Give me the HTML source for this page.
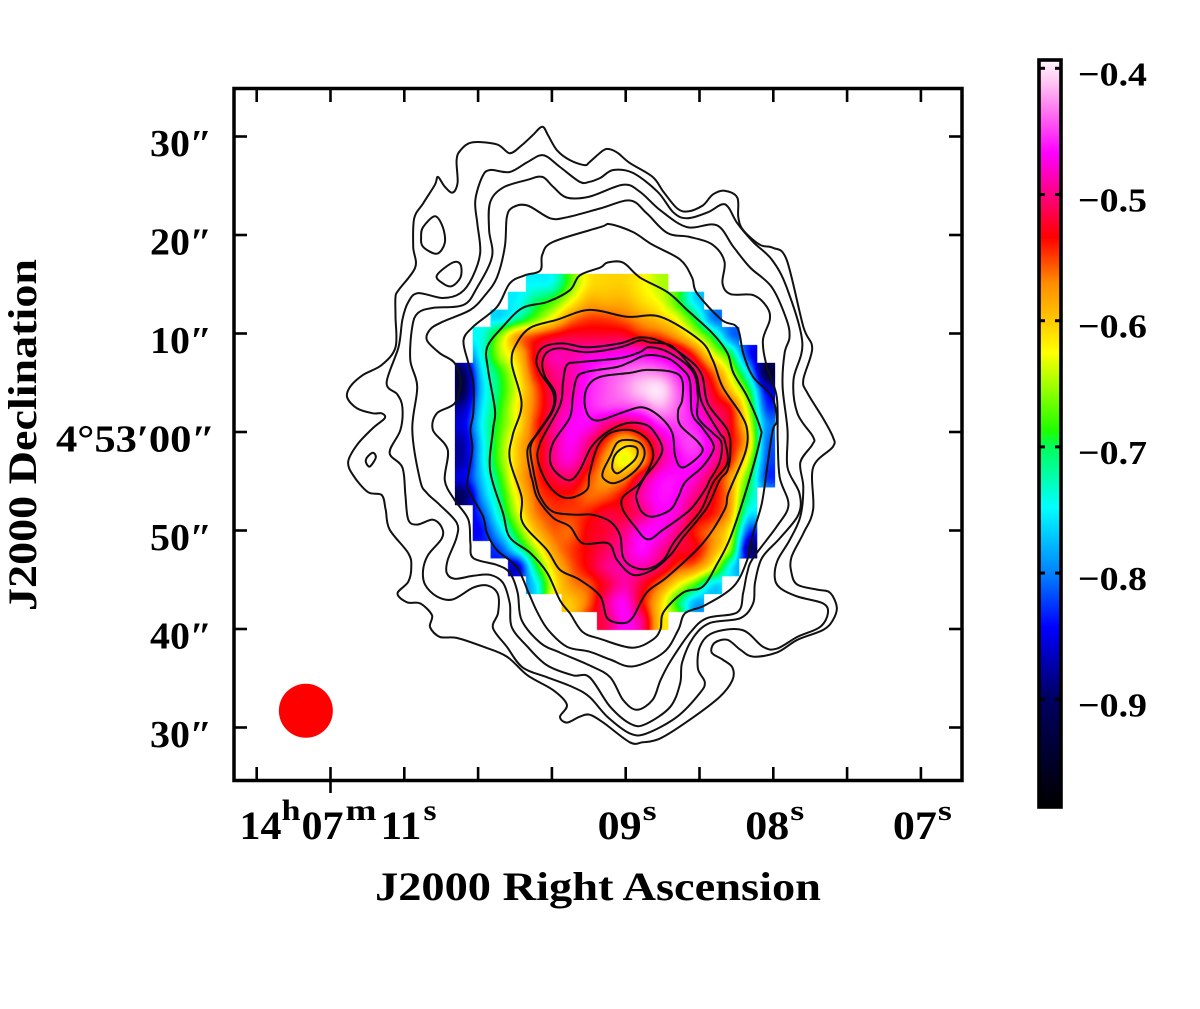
<!DOCTYPE html>
<html lang="en">
<head>
<meta charset="utf-8">
<title>Spectral index map with contours</title>
<style>
html,body{margin:0;padding:0;background:#fff;}
#stage{position:relative;width:1200px;height:1009px;overflow:hidden;background:#fff;}
#stage svg,#stage canvas{position:absolute;left:0;top:0;}
text{font-family:"Liberation Serif",serif;font-weight:bold;fill:#000;}
</style>
</head>
<body>
<div id="stage">
<svg id="cells" width="1200" height="1009"></svg>
<canvas id="field" width="1200" height="1009"></canvas>
<svg id="overlay" width="1200" height="1009" viewBox="0 0 1200 1009">
<text x="375" y="900" font-size="40" textLength="446" lengthAdjust="spacingAndGlyphs">J2000 Right Ascension</text>
<text transform="translate(36 611) rotate(-90)" font-size="40" textLength="352" lengthAdjust="spacingAndGlyphs">J2000 Declination</text>
</svg>
</div>
<script>
// ---- Axis ticks (RA in seconds of time past 14h07m, Dec in arcsec from 4d53m00s) ----
const raTicks=[11.5,11,10.5,10,9.5,9,8.5,8,7.5,7];
const raLabelTicks=[9,8,7];
const raLabelDigits=["09","08","07"];
const raFirstTick=11;
const raFirstLabelParts=["14","h","07","m","11","s"];
const decTicks=[30,20,10,0,-10,-20,-30];
const decLabels=["30\u2033","20\u2033","10\u2033","4\u00B053\u203200\u2033","50\u2033","40\u2033","30\u2033"];
const colorbarTicks=[-0.4,-0.5,-0.6,-0.7,-0.8,-0.9];
const colorbarLabels=["\u22120.4","\u22120.5","\u22120.6","\u22120.7","\u22120.8","\u22120.9"];

// ---- Colour map ----
const cmapValues=[-0.393,-0.412,-0.439,-0.467,-0.5,-0.534,-0.57,-0.6,-0.625,-0.687,-0.7,-0.748,-0.8,-0.843,-0.898,-0.985];
const cmapRed=[255,255,255,255,255,255,255,255,255,30,0,0,0,0,0,0];
const cmapGreen=[245,195,100,0,0,0,140,200,255,255,255,255,130,0,0,0];
const cmapBlue=[253,242,240,255,130,0,0,0,0,0,90,255,255,255,100,0];

// ---- Spectral index per map cell (null = blanked) ----
const spectralIndexRows=[
[null,null,null,null,-.75,-.74,-.67,-.615,-.605,-.605,-.62,-.645,null,null,null,null,null,null],
[null,null,null,-.75,-.71,-.68,-.63,-.59,-.59,-.59,-.61,-.63,-.68,-.76,null,null,null,null],
[null,null,-.76,-.72,-.67,-.62,-.57,-.55,-.55,-.56,-.58,-.60,-.63,-.70,-.80,null,null,null],
[null,-.74,-.66,-.58,-.55,-.53,-.52,-.52,-.52,-.52,-.54,-.55,-.58,-.63,-.70,-.80,null,null],
[null,-.74,-.65,-.60,-.53,-.49,-.49,-.48,-.475,-.47,-.47,-.48,-.50,-.55,-.63,-.70,-.83,null],
[-.90,-.76,-.69,-.62,-.54,-.50,-.49,-.465,-.45,-.44,-.43,-.435,-.46,-.50,-.56,-.64,-.76,-.92],
[-.91,-.77,-.70,-.63,-.56,-.51,-.49,-.46,-.445,-.43,-.41,-.40,-.44,-.48,-.53,-.60,-.69,-.85],
[-.87,-.76,-.69,-.62,-.56,-.51,-.48,-.46,-.45,-.45,-.44,-.42,-.44,-.47,-.51,-.54,-.65,-.82],
[-.85,-.75,-.68,-.62,-.55,-.50,-.47,-.47,-.50,-.52,-.50,-.46,-.45,-.46,-.49,-.53,-.62,-.79],
[-.87,-.76,-.67,-.60,-.55,-.50,-.47,-.50,-.55,-.60,-.56,-.50,-.46,-.45,-.48,-.53,-.60,-.80],
[-.87,-.76,-.67,-.60,-.55,-.50,-.48,-.52,-.58,-.63,-.58,-.50,-.47,-.46,-.49,-.54,-.64,-.81],
[-.85,-.77,-.69,-.60,-.55,-.52,-.51,-.55,-.58,-.57,-.51,-.47,-.465,-.48,-.52,-.58,-.68,-.82],
[-.90,-.79,-.71,-.62,-.56,-.54,-.54,-.56,-.555,-.53,-.49,-.465,-.47,-.50,-.53,-.58,-.71,null],
[null,-.82,-.73,-.64,-.57,-.55,-.55,-.54,-.52,-.52,-.50,-.47,-.48,-.52,-.54,-.59,-.75,null],
[null,-.84,-.77,-.68,-.60,-.56,-.56,-.53,-.52,-.50,-.47,-.47,-.50,-.54,-.57,-.63,-.82,null],
[null,null,-.82,-.74,-.65,-.58,-.55,-.53,-.51,-.49,-.465,-.49,-.52,-.53,-.58,-.66,-.88,null],
[null,null,null,-.86,-.71,-.61,-.56,-.53,-.50,-.49,-.49,-.51,-.55,-.57,-.63,-.75,null,null],
[null,null,null,null,-.76,-.63,-.575,-.555,-.52,-.49,-.52,-.565,-.62,-.68,-.76,null,null,null],
[null,null,null,null,null,null,-.60,-.56,-.50,-.47,-.53,-.60,-.69,-.78,null,null,null,null],
[null,null,null,null,null,null,null,null,-.51,-.47,-.50,-.60,null,null,null,null,null,null]
];

// ---- Contours: west offset, north offset pairs (arcsec from map centre) ----
const contourOuter=[-8.5,31,-9.5,30.1,-10.6,29.1,-11.8,28.3,-13.1,29.2,-15.6,29.4,-16.8,28.6,-17.2,27.6,-17.1,25.3,-17.6,24.3,-18.4,24.9,-19.1,25.9,-19.4,25.1,-20.6,23.2,-21.5,21.7,-21.6,18.8,-21.4,16.7,-23.1,14.4,-23.4,13.7,-23.4,11.7,-23.4,8.6,-24.8,6.8,-26.7,5.8,-28,4.6,-28.3,3.5,-27.3,2.4,-25.7,1.9,-24.8,1.9,-24.5,1.4,-25.7,0.4,-27.3,-1.3,-28.2,-3,-27.7,-4.4,-26.2,-6.1,-24.8,-6.4,-24.4,-7.9,-24,-9.9,-22.1,-12.3,-21.8,-13.7,-22.1,-15.2,-23.2,-16.4,-22.2,-17.3,-20.9,-17.4,-19.7,-18.6,-19.9,-19.8,-18.9,-20.8,-17.2,-20.9,-14.5,-21.8,-12.1,-22.8,-10,-24.7,-7.4,-26.2,-6,-27.7,-6.7,-28.9,-6,-29.5,-4.7,-28.9,-3.7,-28.7,-2.3,-29.5,0.4,-31.5,1.7,-31.5,3.5,-31.1,6.5,-29.2,9.5,-26.9,10.8,-25.2,10.8,-23.9,9.8,-23.1,8.7,-22.4,9,-21.4,10.3,-21.1,11.6,-22.1,12.9,-22.8,15.3,-22.4,17.4,-21.1,20,-20.1,21,-19.1,21.4,-17.8,20.7,-16.3,19.4,-16,17.4,-15.5,16.8,-14.3,16.8,-12.7,18,-10.3,19,-7.9,19,-3.6,21,-1.5,21,-0.5,20,1.4,18.4,4,18,5.3,18.9,8.5,18,10.7,16.3,17.5,14.9,18.7,13.6,19,11.9,20.5,11.4,21.8,11.3,23.8,10,24.5,8.8,24.1,7.8,23,6.3,22.4,5.2,22.7,3.8,24.4,2.7,25.9,0.4,27.3,-0.8,28.3,-1.6,28.7,-2.3,28.6,-3.7,27.4,-4.2,27.1,-5.7,27.6,-7,28.6,-7.9,30.1];
const contourIslandA=[-20.6,20.8,-19.4,21.9,-18.6,20.8,-18.4,19.2,-19.2,18.1,-20.6,18.8,-20.8,19.8];
const contourIslandB=[-19.2,15.9,-17.6,17.2,-16.8,17,-16.8,15.7,-17.7,14.8,-18.6,15.1];
const contourIslandC=[-26.3,-2.6,-25.7,-2.1,-25.4,-2.6,-26,-3.5,-26.4,-3.1];
const contourLevel2=[-8.4,28.1,-10,27.4,-11.8,26.4,-13.8,26.6,-14.6,25.9,-15.3,23.5,-15.1,21.2,-14.8,18.2,-15.6,15.7,-16.8,14.1,-18.6,13.6,-21.1,14.1,-22.1,13.2,-22.7,11.4,-23.1,8.6,-24.3,5,-23.2,3.8,-22.7,2.5,-22.9,0.2,-24,-2.1,-22.7,-3.6,-22.4,-6.4,-22.1,-8.9,-21.2,-9.4,-19.6,-8.9,-18.7,-9.7,-18.7,-10.8,-20.1,-12.5,-20.6,-14,-20.4,-15.5,-19.2,-16.7,-17.6,-17,-15.5,-15.8,-14,-15.6,-13,-16.5,-13,-18.4,-13.5,-19.9,-12.1,-21.8,-10.5,-23.9,-8,-24.9,-5.4,-25.9,-3.7,-26.9,-1.9,-28.9,0.4,-30.6,2.1,-30.6,5.2,-28.9,7.5,-26.5,8,-25.4,7.3,-24,7.5,-21.8,8.8,-20.4,11.8,-20.1,13.9,-21.8,15.3,-22,17.4,-20.8,19.7,-19.8,20.5,-18.4,20,-17.4,17.4,-16.7,15.6,-15.8,15.1,-14.7,15.4,-13,16.6,-11,17.7,-8.6,18,-5.6,17.7,-3.1,18.9,-1.3,19,-0.5,17.4,1.9,17,5.3,17.9,9.1,16.3,14.7,14.8,17.5,12.9,19.3,11.3,21.2,10.4,22.8,9.7,23.1,8.3,22.3,6.2,21.7,4.8,22.3,3.2,24.4,0.7,26.3,-1.3,26.6,-2.6,25.8,-3.7,25.4,-4.7,25.4,-6.7,26.9];
const contourLevel3=[-8.5,25.9,-10,25.6,-12.5,24.8,-13.8,23.3,-13.9,20.5,-13.6,17.8,-15.1,14.7,-16.5,12.9,-19.6,12.6,-21.1,12.1,-21.7,10.7,-21.9,7.3,-21.2,4.6,-21.7,0.2,-20.9,-4.9,-20.2,-6.2,-18.9,-7.4,-17.2,-9.2,-17.2,-10.7,-18.1,-13,-18.2,-14.3,-17.4,-14.9,-15.5,-14.6,-13.8,-14.5,-12.5,-15.3,-11.8,-17.4,-11.6,-19.8,-10,-21.8,-8,-23.7,-5.4,-24.7,-3.7,-24.9,-1.6,-27.9,0.6,-29.7,2.1,-29.6,4.5,-27.9,5.5,-25.5,5.7,-23.4,6.8,-20.9,8.5,-19.4,11.6,-18.9,12.9,-17.4,13.1,-15.3,13.8,-12.8,15.6,-10.8,17.5,-8.4,17.6,-6.2,16.4,-3.6,16.4,0.2,15.9,4.6,16.1,8,16.6,9.6,16.3,11.4,14.8,14.7,12.6,16.7,10.9,18.8,9.2,21,6.2,20.8,3.5,22.5,1.4,24.4,-0.3,25.1,-3.7,23.9,-6,23.8,-7.4,24.9];
const contourLevel4=[-2.6,22.7,-6,21.8,-7.7,21.7,-10,23,-11.5,22.8,-12.1,21.8,-12.3,18.8,-13.1,15.7,-14.3,13.9,-15.8,12.4,-18.6,11.2,-19.9,10.4,-20.2,9.3,-18.9,8,-17.4,7,-16.8,5,-17.4,2.9,-19.2,1.9,-19.6,0.2,-18.1,-1.8,-18.4,-4.9,-17.4,-6.9,-16,-8.9,-15.8,-11.3,-15.5,-12.8,-13.1,-13.5,-11.8,-14.3,-11,-16.3,-10.6,-19.1,-8.7,-21.4,-6.7,-22.4,-3.7,-23.7,-1.6,-24.9,-0.3,-27.2,1.1,-28.2,2.7,-27.2,3.5,-25.2,4.5,-23.3,6.5,-20.4,8.2,-18.9,11.3,-18.3,11.9,-16.3,12.3,-14.3,12.9,-12.8,15.3,-9.6,16.5,-7.4,15.6,-4.6,15.4,-0.8,15.3,3.6,14.3,6.6,13.9,9.3,14.6,11.4,14.3,12.7,12.9,13.9,10.6,14,9.8,15.1,10,17.3,8.8,19,6.5,19.8,4.2,20.2,2.1,22.2,0.4,23.5];
const contourLevel5=[-2.6,20.8,-7.4,19.3,-8.5,18,-8.7,16.4,-10.3,15.9,-11.8,15.1,-13.1,12.7,-15.5,10.7,-16.5,9.3,-16,7,-15.5,5,-15.5,1.9,-15.8,0.2,-15.6,-1.8,-16.1,-5.2,-15.6,-6.6,-14.5,-8.6,-14.1,-10.3,-13.1,-12,-11.1,-13.7,-9.9,-16.3,-9,-18.3,-7.9,-20.1,-6,-21.8,-3.7,-22.3,-1.6,-23.1,0.7,-23.8,3.8,-22.4,5.3,-20.1,6,-18.4,8,-17.6,10.9,-15.7,12.3,-13,12.9,-10.3,13.8,-7.2,14.4,-3.1,14.9,0.2,15.3,1.2,14.8,3.6,12.9,5.6,11.9,8,11.3,10.6,9.7,11.4,7.2,14.1,6.7,15.7,5.5,17.5,2.7,19,0.7,20.3,-1.6,21.1];
const contourLevel6=[-2.6,16.7,-4.7,15.9,-5.7,14.4,-8,13.2,-10.5,12.6,-12.5,10.7,-14.1,8.6,-14,6.3,-13.3,2.2,-13.5,0.2,-13.8,-3.9,-12.5,-8.2,-11.8,-10.7,-9.7,-12.3,-8,-14.3,-6.7,-17.1,-5.7,-18.4,-4.4,-20.3,-2.6,-21,0.6,-21.9,2.7,-21.1,3.5,-20,3.8,-18.3,5.8,-16.3,7.8,-15.7,9.3,-13.3,10.6,-10.7,12.3,-5.6,13.6,-0.8,13.6,0.5,12.3,3.6,10.9,6,10.3,8,8.8,10,6.2,12.4,4.2,14.2,1.4,15.7,-0.3,17.2,-1.9,17.2];
const contourLevel7=[-3.7,12.4,-7,11.4,-9.7,10.6,-11.1,9,-11.6,7,-10.6,2.9,-11.5,-0.3,-11.8,-2.8,-10.6,-6.6,-10.5,-9.2,-8,-12,-6.7,-14,-4.7,-15,-2.6,-16.7,-1.9,-18.9,-0.3,-19.4,0.7,-18.8,2.1,-16.3,4.2,-14.7,7.8,-11.3,10,-7.9,10.4,-6.2,12.1,-2.1,12.3,0.2,11.6,1.9,9.8,4.6,8.8,7.3,7.5,9.3,3.5,11.7,0.1,11.7];
const contourLevel8=[1.4,9.6,-0.6,9,-4,8.6,-6.4,9,-8.4,8.6,-9.1,7.3,-8.7,6,-7.4,4,-7.5,2.2,-9,-0.1,-10,-1.8,-9.7,-4.2,-9.5,-4.9,-9,-6.7,-7.4,-8.7,-5.7,-9.6,-4.4,-11.3,-1.8,-11.3,-0.9,-13,0.7,-14.5,2.7,-14,4.5,-12.5,5.8,-10.7,8.2,-7.7,9.5,-4.9,10.3,-3.9,10.6,-1.8,10.3,0.2,8.3,2.9,7.7,5.8,6.2,7.5,3.5,9.2];
const contourLevel9=[1.4,9.3,-0.6,8.6,-4,8.1,-6.7,8.5,-8,8.1,-8.5,7,-8.2,5.6,-7.2,4,-7.4,2.2,-8.7,0.2,-9.7,-1.5,-9.4,-3.9,-9.2,-4.9,-8.7,-6.6,-7.4,-8.1,-5,-8.4,-3.4,-8.4,-1.6,-9.1,-0.6,-10.5,-0.3,-12.7,0.7,-13.7,2.2,-13.9,3.8,-13,5,-11,7.5,-8.1,8.5,-5.9,9,-4.9,10.3,-3.1,10,-0.8,9.5,-0.1,7.7,3,7.2,5.6,6.3,7,4.5,8.8,2.4,9.1];
const contourLevel10=[1.4,8.1,-0.6,7.5,-4.7,7.1,-6,6.8,-6.4,5,-6.7,2.7,-8.7,-1.1,-8.9,-3.1,-7.7,-5.6,-6,-6.7,-4,-5.9,-3.7,-4.2,-2.9,-1.5,-1.6,-0.1,0.4,0.2,1.9,-0.5,2.7,-1.8,2.6,-3.1,1.4,-5.2,-0.3,-6.6,-0.3,-7.9,0.9,-9.6,2.2,-10.9,3.8,-9.9,6.5,-7.9,8,-5.9,8.5,-4.9,9.5,-3.1,9.7,-1.1,8.8,-0.1,7.3,1.5,7.3,3.6,6.8,6.1,4.5,8,2.4,8.6];
const contourLevel11=[-0.9,6.6,-4,6.1,-5,5.5,-5.4,3.6,-5.7,1.5,-7.4,-1.1,-7.7,-3,-7,-4.2,-5.7,-4.9,-4.7,-3.9,-3.5,-1.5,-1.9,0,0.1,0.9,2.1,0.7,3.2,-0.5,3.7,-1.8,3.1,-3.1,1.9,-4.6,1.1,-6.2,1.1,-6.9,1.6,-8.1,2.7,-8.6,4.5,-7.9,5.3,-6.6,6,-5.1,7.7,-3.6,8.8,-2,8.8,-1.1,7.7,0.5,6.7,1.9,6.5,5.1,5.8,6.3,4.2,7.5,2.1,7.8,0.4,7.1];
const contourLevel12=[0.4,6,-2.6,5.6,-3.9,4.6,-4.2,2.9,-3.7,1.5,-2.6,1.2,-0.3,2,1.7,2.5,3.5,1.5,4.7,-0.1,5,-2.5,5.8,-3.6,7.7,-2.1,7.3,-1,5.5,0.7,5.3,2.2,5.7,3.2,5.7,5.3,4.7,6.1,2.1,6.3];
const contourNucleusOuter=[-1.6,-2.5,-2.3,-3.9,-2.3,-4.7,-1.3,-5.2,0.1,-4.6,1.4,-3.4,1.9,-2.1,1.4,-1.1,0.1,-0.8,-0.9,-1.1];
const contourNucleusInner=[-1.1,-2.3,-0.1,-1.5,0.9,-1.5,1.2,-2,0.9,-2.8,-0.1,-3.7,-0.9,-4.2,-1.4,-3.6];
const contourSet=[contourOuter,contourIslandA,contourIslandB,contourIslandC,contourLevel2,contourLevel3,contourLevel4,contourLevel5,contourLevel6,contourLevel7,contourLevel8,contourLevel9,contourLevel10,contourLevel11,contourLevel12,contourNucleusOuter,contourNucleusInner];

// ---- Synthesized beam (west, north, radius in arcsec) ----
const beamWest=-32.5;
const beamNorth=-28.3;
const beamRadius=2.74;

// ---- Map grid geometry in sky units ----
const gridWestStart=-17.36;
const gridNorthStart=16.04;
const gridStep=1.805;

// ---- Axis functions ----
const PX_PER_ARCSEC=9.85;
function xOffset(west){return 626+west*PX_PER_ARCSEC;}
function yOffset(north){return 432-north*PX_PER_ARCSEC;}
function xRa(sec){return 625.7+(9-sec)*147.6;}
function yDec(arc){return 432-arc*9.85;}
function yBar(v){return 68.3+(-0.4-v)*1262;}

function colorOf(v){
  var n=cmapValues.length;
  if(v>=cmapValues[0])return [cmapRed[0],cmapGreen[0],cmapBlue[0]];
  for(var i=1;i<n;i++){
    if(v>=cmapValues[i]){
      var t=(cmapValues[i-1]-v)/(cmapValues[i-1]-cmapValues[i]);
      return [cmapRed[i-1]+t*(cmapRed[i]-cmapRed[i-1]),cmapGreen[i-1]+t*(cmapGreen[i]-cmapGreen[i-1]),cmapBlue[i-1]+t*(cmapBlue[i]-cmapBlue[i-1])];
    }
  }
  return [cmapRed[n-1],cmapGreen[n-1],cmapBlue[n-1]];
}
function cssColor(c){return 'rgb('+Math.round(c[0])+','+Math.round(c[1])+','+Math.round(c[2])+')';}

var NS='http://www.w3.org/2000/svg';
var cellsSvg=document.getElementById('cells');
var overlay=document.getElementById('overlay');
function mk(tag,parent){var e=document.createElementNS(NS,tag);parent.appendChild(e);return e;}
function setA(e,k,v){e.setAttribute(k,v);}

// ---- Heatmap: one rect per cell, then a smooth interpolated canvas on top ----
var nRows=spectralIndexRows.length,nCols=spectralIndexRows[0].length;
var cellPx=gridStep*PX_PER_ARCSEC;
var x0=xOffset(gridWestStart),y0=yOffset(gridNorthStart);
spectralIndexRows.forEach(function(row,r){
  row.forEach(function(v,c){
    if(v===null)return;
    var el=mk('rect',cellsSvg);
    
    
    setA(el,'x',xOffset(gridWestStart+c*gridStep));
    setA(el,'y',yOffset(gridNorthStart-r*gridStep));
    setA(el,'width',cellPx);
    setA(el,'height',cellPx);
    setA(el,'fill',cssColor(colorOf(v)));
  });
});
// fill blanked cells by neighbour extension for interpolation only
var filled=spectralIndexRows.map(function(r){return r.slice();});
for(var pass=0;pass<12;pass++){
  var next=filled.map(function(r){return r.slice();});
  for(var r=0;r<nRows;r++)for(var c=0;c<nCols;c++){
    if(filled[r][c]!==null)continue;
    var s=0,k=0;
    [[0,1],[0,-1],[1,0],[-1,0]].forEach(function(d){
      var rr=r+d[0],cc=c+d[1];
      if(rr>=0&&rr<nRows&&cc>=0&&cc<nCols&&filled[rr][cc]!==null){s+=filled[rr][cc];k++;}
    });
    if(k)next[r][c]=s/k;
  }
  filled=next;
}
function G(r,c){
  r=Math.max(0,Math.min(nRows-1,r));c=Math.max(0,Math.min(nCols-1,c));
  var v=filled[r][c];return v===null?-0.9:v;
}
function cub(a,b,c,d,t){return b+0.5*t*(c-a+t*(2*a-5*b+4*c-d+t*(3*(b-c)+d-a)));}
function sample(u,v){
  var i=Math.floor(u),j=Math.floor(v),fu=u-i,fv=v-j,row=[];
  for(var m=-1;m<=2;m++){row.push(cub(G(j+m,i-1),G(j+m,i),G(j+m,i+1),G(j+m,i+2),fu));}
  return cub(row[0],row[1],row[2],row[3],fv);
}
var cv=document.getElementById('field'),ctx=cv.getContext('2d');
var bx=Math.floor(x0),by=Math.floor(y0),bw=Math.ceil(nCols*cellPx)+1,bh=Math.ceil(nRows*cellPx)+1;
var img=ctx.createImageData(bw,bh);
for(var py=0;py<bh;py++){
  for(var px=0;px<bw;px++){
    var gx=(bx+px+0.5-x0)/cellPx,gy=(by+py+0.5-y0)/cellPx;
    var ci=Math.floor(gx),ri=Math.floor(gy);
    if(ci<0||ri<0||ci>=nCols||ri>=nRows||spectralIndexRows[ri][ci]===null)continue;
    var col=colorOf(sample(gx-0.5,gy-0.5));
    var o=(py*bw+px)*4;
    img.data[o]=col[0];img.data[o+1]=col[1];img.data[o+2]=col[2];img.data[o+3]=255;
  }
}
ctx.putImageData(img,bx,by);

// ---- Contours ----
function closedPath(arr){
  var pts=[];
  for(var i=0;i<arr.length;i+=2){pts.push([xOffset(arr[i]),yOffset(arr[i+1])]);}
  var n=pts.length,d='M'+pts[0][0].toFixed(1)+' '+pts[0][1].toFixed(1);
  for(var j=0;j<n;j++){
    var p0=pts[(j-1+n)%n],p1=pts[j],p2=pts[(j+1)%n],p3=pts[(j+2)%n];
    var c1x=p1[0]+(p2[0]-p0[0])/6,c1y=p1[1]+(p2[1]-p0[1])/6;
    var c2x=p2[0]-(p3[0]-p1[0])/6,c2y=p2[1]-(p3[1]-p1[1])/6;
    d+='C'+c1x.toFixed(1)+' '+c1y.toFixed(1)+' '+c2x.toFixed(1)+' '+c2y.toFixed(1)+' '+p2[0].toFixed(1)+' '+p2[1].toFixed(1);
  }
  return d+'Z';
}
contourSet.forEach(function(arr,idx){
  var el=mk('path',overlay);
  
  
  setA(el,'d',closedPath(arr));
  setA(el,'fill','none');
  setA(el,'stroke','#111');
  setA(el,'stroke-width','2');
  setA(el,'stroke-linejoin','round');
});

// ---- Beam ----
var beam=mk('circle',overlay);


setA(beam,'cx',xOffset(beamWest));
setA(beam,'cy',yOffset(beamNorth));
setA(beam,'r',beamRadius*PX_PER_ARCSEC);
setA(beam,'fill','#ff0000');

// ---- Frame and ticks ----
var frame=mk('rect',overlay);


setA(frame,'x',234);setA(frame,'y',88.5);setA(frame,'width',728);setA(frame,'height',692);
setA(frame,'fill','none');setA(frame,'stroke','#000');setA(frame,'stroke-width','3.5');

function line(x1,y1,x2,y2,w){
  var l=mk('line',overlay);
  setA(l,'x1',x1);setA(l,'y1',y1);setA(l,'x2',x2);setA(l,'y2',y2);
  setA(l,'stroke','#000');setA(l,'stroke-width',w);
  return l;
}
raTicks.forEach(function(s){
  var x=xRa(s);
  var top=line(x,88.5,x,102,2.6);
  
  
  var bot=line(x,s===raFirstTick?793:780,x,767,2.6);
  
  
});
decTicks.forEach(function(d){
  var y=yDec(d);
  var lt=line(234,y,247,y,2.6);
  
  
  var rt=line(962,y,949,y,2.6);
  
  
});

function txt(s,x,y,size,len,anchorEnd){
  var t=mk('text',overlay);
  setA(t,'x',x);setA(t,'y',y);setA(t,'font-size',size);
  if(len){setA(t,'textLength',len);setA(t,'lengthAdjust','spacingAndGlyphs');}
  t.textContent=s;
  return t;
}
// Dec labels
decLabels.forEach(function(s,i){
  var isLong=s.length>4;
  var y=yDec(decTicks[i])+19.5;
  var t=txt(s,isLong?56:150,y,38,isLong?159:62);
  
  
});
// RA labels
raLabelTicks.forEach(function(sec,i){
  var x=xRa(sec);
  var a=txt(raLabelDigits[i],x-28,839,40,44);
  
  
  var b=txt('s',x+17,820,28,14);
  
  
});
var xf=xRa(raFirstTick);
var firstOffsets=[-91,-49,-29,15,50,93];
var firstLens=[42,19,42,31,41,13];
raFirstLabelParts.forEach(function(s,i){
  var sup=(i%2===1);
  var t=txt(s,xf+firstOffsets[i],sup?820:839,sup?30:40,firstLens[i]);
  
  
});

// ---- Colour bar ----
var defs=mk('defs',overlay);
var grad=mk('linearGradient',defs);
setA(grad,'id','barGrad');setA(grad,'x1','0');setA(grad,'y1','0');setA(grad,'x2','0');setA(grad,'y2','1');
var barTop=60,barBottom=807;
cmapValues.forEach(function(v,i){
  var st=mk('stop',grad);
  setA(st,'offset',((yBar(v)-barTop)/(barBottom-barTop)).toFixed(4));
  setA(st,'stop-color','rgb('+cmapRed[i]+','+cmapGreen[i]+','+cmapBlue[i]+')');
});
var bar=mk('rect',overlay);


setA(bar,'x',1039);setA(bar,'y',barTop);setA(bar,'width',22);setA(bar,'height',barBottom-barTop);
setA(bar,'fill','url(#barGrad)');setA(bar,'stroke','#000');setA(bar,'stroke-width','3.6');
colorbarTicks.forEach(function(v,i){
  var y=yBar(v);
  var a=line(1040,y,1045,y,3);
  
  
  var b=line(1060,y,1055,y,3);
  
  
  var t=txt(colorbarLabels[i],1078,y+17,34,69);
  
  
});
</script>
</body>
</html>
